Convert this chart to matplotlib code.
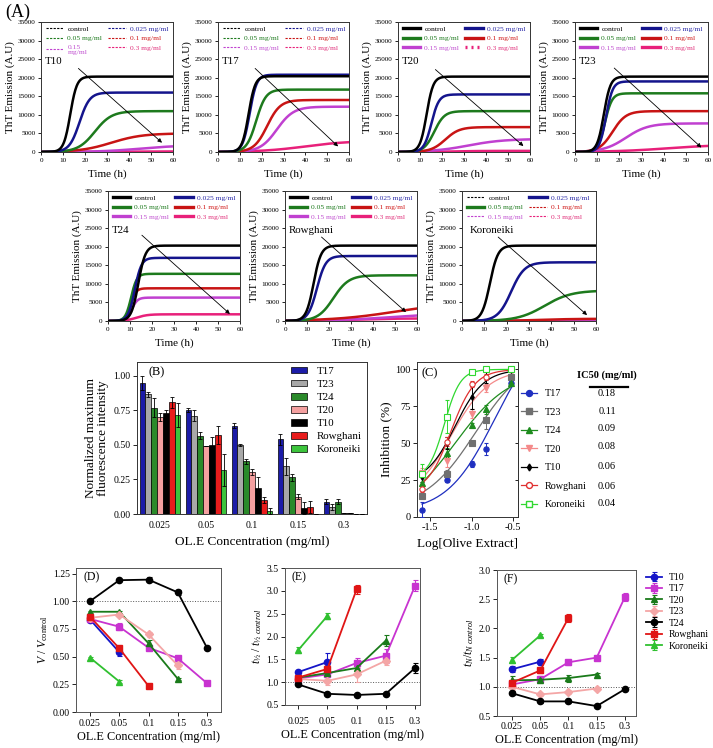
import numpy as np
import matplotlib
matplotlib.use('Agg')
import matplotlib.pyplot as plt
from matplotlib.lines import Line2D

plt.rcParams['font.family'] = ['Liberation Serif', 'DejaVu Serif']
plt.rcParams['mathtext.fontset'] = 'custom'
plt.rcParams['mathtext.rm'] = 'Liberation Serif'
plt.rcParams['mathtext.it'] = 'Liberation Serif:italic'
plt.rcParams['mathtext.bf'] = 'Liberation Serif:bold'

# ------------------------------------------------------------------
# Panel A: ThT kinetics, sigmoidal fit parameters
# order: control, 0.025, 0.05, 0.1, 0.15, 0.3 mg/ml
# ------------------------------------------------------------------
conc_labels = ['control', '0.025 mg/ml', '0.05 mg/ml', '0.1 mg/ml', '0.15 mg/ml', '0.3 mg/ml']
kin_colors = ['#000000', '#14148c', '#1d7a1d', '#c81414', '#c040d0', '#e8207a']
kin_text_colors = ['#000000', '#2a2aa8', '#1d7a1d', '#d01818', '#c050d0', '#e0307a']
samples_A = ['T10', 'T17', 'T20', 'T23', 'T24', 'Rowghani', 'Koroneiki']

T10_plateau = [20300, 16000, 11000, 5000, 1800, 150]
T10_thalf = [13.3, 17.5, 24.5, 32.0, 45.0, 30.0]
T10_width = [1.5, 2.3, 3.8, 7.0, 9.0, 10.0]

T17_plateau = [20400, 20800, 16800, 14000, 12200, 3000]
T17_thalf = [14.0, 14.5, 17.5, 22.5, 27.0, 40.0]
T17_width = [1.5, 1.6, 2.2, 3.0, 3.8, 10.0]

T20_plateau = [20300, 15500, 11000, 6700, 3500, 300]
T20_thalf = [13.0, 15.2, 16.5, 21.5, 32.0, 25.0]
T20_width = [1.5, 1.7, 2.3, 3.2, 8.0, 6.0]

T23_plateau = [20300, 19000, 15800, 11000, 7700, 2000]
T23_thalf = [13.0, 14.0, 13.5, 17.0, 23.0, 42.0]
T23_width = [1.5, 1.5, 1.6, 3.0, 5.0, 12.0]

T24_plateau = [20300, 17000, 12700, 8800, 6300, 1800]
T24_thalf = [13.8, 12.2, 10.5, 10.3, 10.8, 13.0]
T24_width = [1.6, 1.5, 1.3, 1.2, 1.3, 2.5]

Rowghani_plateau = [20300, 17500, 12300, 5000, 2200, 700]
Rowghani_thalf = [13.0, 14.5, 22.0, 50.0, 50.0, 30.0]
Rowghani_width = [1.7, 2.0, 3.5, 14.0, 14.0, 10.0]

Koroneiki_plateau = [20300, 15800, 8200, 600, 150, 80]
Koroneiki_thalf = [12.5, 22.0, 37.0, 35.0, 30.0, 30.0]
Koroneiki_width = [1.8, 3.0, 6.0, 8.0, 10.0, 10.0]

# legend handle styles in each kinetic panel
T10_leg = ['dash'] * 6
T17_leg = ['dash'] * 6
T20_leg = ['solid'] * 5 + ['dot']
T23_leg = ['solid'] * 6
T24_leg = ['solid'] * 6
Rowghani_leg = ['solid'] * 6
Koroneiki_leg = ['dash', 'solid', 'solid', 'dash', 'dash', 'dash']

# arrow (start t, start y, end t, end y)
arrow_T10 = [17.0, 22500, 55.0, 2500]
arrow_T17 = [17.0, 22500, 55.0, 1500]
arrow_T20 = [17.0, 22200, 57.0, 1600]
arrow_T23 = [17.7, 22600, 57.0, 1200]
arrow_T24 = [15.4, 23100, 55.4, 1900]
arrow_Rowghani = [16.6, 22600, 55.0, 2400]
arrow_Koroneiki = [16.2, 22600, 56.0, 1600]

# ------------------------------------------------------------------
# Panel B: normalized max fluorescence
# ------------------------------------------------------------------
conc_ticks = ['0.025', '0.05', '0.1', '0.15', '0.3']
conc_mg = [0.025, 0.05, 0.1, 0.15, 0.3]
B_series = ['T17', 'T23', 'T24', 'T20', 'T10', 'Rowghani', 'Koroneiki']
B_colors = ['#1c1ca8', '#a8a8a8', '#2a8a2a', '#f4a0a0', '#000000', '#e81c1c', '#3cc43c']
B_T17 = [0.95, 0.755, 0.64, 0.54, 0.09]
B_T23 = [0.865, 0.71, 0.50, 0.345, 0.05]
B_T24 = [0.77, 0.565, 0.38, 0.265, 0.09]
B_T20 = [0.70, 0.495, 0.305, 0.125, 0.005]
B_T10 = [0.73, 0.50, 0.185, 0.045, 0.005]
B_Rowghani = [0.81, 0.57, 0.10, 0.05, 0.0]
B_Koroneiki = [0.715, 0.32, 0.02, 0.0, 0.0]
B_T17_err = [0.05, 0.015, 0.02, 0.04, 0.02]
B_T23_err = [0.02, 0.04, 0.01, 0.06, 0.02]
B_T24_err = [0.07, 0.025, 0.02, 0.025, 0.02]
B_T20_err = [0.03, 0.0, 0.02, 0.02, 0.0]
B_T10_err = [0.02, 0.055, 0.085, 0.045, 0.0]
B_Rowghani_err = [0.04, 0.065, 0.02, 0.045, 0.0]
B_Koroneiki_err = [0.085, 0.115, 0.02, 0.0, 0.0]

# ------------------------------------------------------------------
# Panel C: inhibition (%) vs log concentration
# ------------------------------------------------------------------
C_series = ['T17', 'T23', 'T24', 'T20', 'T10', 'Rowghani', 'Koroneiki']
C_colors = ['#1f2fc0', '#707070', '#1e8c1e', '#f48a8a', '#000000', '#e03030', '#30d830']
C_markers = ['o', 's', '^', 'v', 'd', 'o', 's']
C_open = [False, False, False, False, False, True, True]
C_T17 = [5, 25, 36, 46, 91]
C_T23 = [14, 29, 50, 65.5, 95]
C_T24 = [23, 43.5, 62, 73, 91]
C_T20 = [30, 38, 70, 87.5, 99.5]
C_T10 = [27, 50, 81, 94.5, 99.5]
C_Rowghani = [19, 51, 90, 95, 100]
C_Koroneiki = [29, 68, 98, 100, 100]
C_T17_err = [5, 1, 2, 4, 2]
C_T23_err = [2, 3, 1, 6, 2]
C_T24_err = [4, 3, 1.5, 3, 2]
C_T20_err = [3, 4, 3, 2.5, 1]
C_T10_err = [3, 4, 8, 4, 1]
C_Rowghani_err = [2, 3, 2, 2, 1]
C_Koroneiki_err = [7, 11, 1, 1, 1]
# fitted dose-response parameters: bottom, top, midpoint, hill slope
C_bottom = [3, 5, 0, 10, 23, 16, 26]
C_top = [130, 110, 100, 100, 100, 100, 100]
C_mid = [-0.72, -0.95, -1.2, -1.25, -1.2, -1.25, -1.33]
C_hill = [1.5, 1.4, 1.3, 1.9, 2.5, 3.0, 4.5]
IC50 = ['0.18', '0.11', '0.09', '0.08', '0.06', '0.06', '0.04']

# ------------------------------------------------------------------
# Panels D, E, F
# ------------------------------------------------------------------
DEF_series = ['T10', 'T17', 'T20', 'T23', 'T24', 'Rowghani', 'Koroneiki']
DEF_colors = ['#1515c8', '#c833d0', '#1a7a1a', '#f4a6a6', '#000000', '#e01515', '#30c030']
DEF_markers = ['o', 's', '^', 'D', 'o', 's', '^']

D_T10 = [0.835, 0.54]
D_T17 = [0.84, 0.77, 0.58, 0.485, 0.26]
D_T20 = [0.905, 0.905, 0.62, 0.30]
D_T23 = [0.85, 0.88, 0.70, 0.42]
D_T24 = [1.00, 1.19, 1.195, 1.08, 0.58]
D_Rowghani = [0.86, 0.575, 0.235]
D_Koroneiki = [0.49, 0.275]
D_T10_err = [0.02, 0.03]
D_T17_err = [0.01, 0.03, 0.02, 0.02, 0.01]
D_T20_err = [0.01, 0.01, 0.03, 0.01]
D_T23_err = [0.01, 0.01, 0.02, 0.03]
D_T24_err = [0.01, 0.01, 0.025, 0.02, 0.01]
D_Rowghani_err = [0.02, 0.02, 0.01]
D_Koroneiki_err = [0.01, 0.01]

E_T10 = [1.22, 1.44]
E_T17 = [1.08, 1.17, 1.42, 1.58, 3.11]
E_T20 = [1.10, 1.20, 1.31, 1.91]
E_T23 = [1.07, 1.03, 1.17, 1.47]
E_T24 = [0.95, 0.745, 0.72, 0.745, 1.31]
E_Rowghani = [1.10, 1.29, 3.03]
E_Koroneiki = [1.70, 2.45]
E_T10_err = [0.03, 0.2]
E_T17_err = [0.03, 0.05, 0.1, 0.15, 0.12]
E_T20_err = [0.03, 0.05, 0.05, 0.12]
E_T23_err = [0.03, 0.1, 0.17, 0.1]
E_T24_err = [0.03, 0.02, 0.02, 0.02, 0.12]
E_Rowghani_err = [0.03, 0.08, 0.1]
E_Koroneiki_err = [0.07, 0.07]

F_T10 = [1.30, 1.43]
F_T17 = [1.04, 1.13, 1.42, 1.50, 2.54]
F_T20 = [1.11, 1.12, 1.15, 1.21]
F_T23 = [1.00, 0.87, 0.91, 0.97]
F_T24 = [0.89, 0.75, 0.75, 0.67, 0.96]
F_Rowghani = [1.07, 1.28, 2.18]
F_Koroneiki = [1.46, 1.88]
F_T10_err = [0.05, 0.05]
F_T17_err = [0.05, 0.05, 0.04, 0.03, 0.07]
F_T20_err = [0.08, 0.03, 0.06, 0.02]
F_T23_err = [0.05, 0.02, 0.03, 0.02]
F_T24_err = [0.03, 0.02, 0.02, 0.02, 0.02]
F_Rowghani_err = [0.03, 0.05, 0.07]
F_Koroneiki_err = [0.05, 0.02]

# ==================================================================
W, H = 713, 748
fig = plt.figure(figsize=(W / 100, H / 100), dpi=100)


def add_ax(l, t, r, b):
    return fig.add_axes([l / W, 1 - b / H, (r - l) / W, (b - t) / H])


G = globals()
time_h = np.linspace(0, 60, 301)


def leg_handle(style, color):
    if style == 'dash':
        return Line2D([], [], color=color, lw=0.8, ls=(0, (2, 1.2)))
    if style == 'dot':
        return Line2D([], [], color=color, lw=2.4, ls=(0, (0.6, 1.2)))
    return Line2D([], [], color=color, lw=2.4)


def kinetic_panel(ax, name):
    plateau = G[name + '_plateau']
    thalf = G[name + '_thalf']
    width = G[name + '_width']
    for i in range(6):
        y = plateau[i] / (1 + np.exp(-(time_h - thalf[i]) / width[i]))
        ax.plot(time_h, y, color=kin_colors[i], lw=1.8, zorder=3 + (5 - i) * 0.1)
    a = G['arrow_' + name]
    ax.annotate('', xy=(a[2], a[3]), xytext=(a[0], a[1]),
                arrowprops=dict(arrowstyle='-|>', color='black', lw=0.6,
                                mutation_scale=6, shrinkA=0, shrinkB=0), zorder=6)
    ax.set_xlim(0, 60)
    ax.set_ylim(0, 35000)
    ax.set_xticks(range(0, 61, 10))
    ax.set_yticks(range(0, 35001, 5000))
    ax.tick_params(direction='out', length=2.5, width=0.6, labelsize=5.2, pad=1.5)
    for s in ax.spines.values():
        s.set_linewidth(0.7)
        s.set_color('#333333')
    ax.set_ylabel('ThT Emission (A.U)', fontsize=8, labelpad=2)
    ax.set_xlabel('Time (h)', fontsize=8, labelpad=5)
    styles = G[name + '_leg']
    labels = list(conc_labels)
    if name == 'T10':
        labels[4] = '0.15\nmg/ml'
    order = [0, 2, 4, 1, 3, 5]
    handles = [leg_handle(styles[i], kin_colors[i]) for i in order]
    ax.legend(handles, [labels[i] for i in order], ncol=2, loc='upper left',
              bbox_to_anchor=(-0.01, 1.02), frameon=False, fontsize=5.4,
              handlelength=2.3, handletextpad=0.6, columnspacing=0.8,
              labelspacing=0.45, borderpad=0.3,
              labelcolor=[kin_text_colors[i] for i in order])
    ax.text(1.5 if name != 'Koroneiki' else 3.5, 24300, name, fontsize=7.8, va='center', ha='left')


kin_boxes = {
    'T10': (41, 22, 173, 152), 'T17': (218, 22, 349, 152),
    'T20': (398, 22, 530, 152), 'T23': (575, 22, 708, 152),
    'T24': (108, 191, 240, 321), 'Rowghani': (285, 191, 417, 321),
    'Koroneiki': (462, 191, 596, 321),
}
for nm in samples_A:
    ax = add_ax(*kin_boxes[nm])
    kinetic_panel(ax, nm)

fig.text(5 / W, 1 - 12 / H, '(A)', fontsize=13, va='center', ha='left')

# ---------------- Panel B ----------------
axB = add_ax(137, 362, 367, 514)
xg = np.arange(len(conc_ticks))
bw = 0.127
for j, s in enumerate(B_series):
    vals = G['B_' + s]
    errs = G['B_' + s + '_err']
    pos = xg + (j - 3) * bw
    axB.bar(pos, vals, width=bw, color=B_colors[j], edgecolor='black', linewidth=0.5,
            label=s, zorder=2)
    axB.errorbar(pos, vals, yerr=errs, fmt='none', ecolor='black', elinewidth=0.6,
                 capsize=1.3, capthick=0.6, zorder=3)
axB.set_xlim(-0.5, 4.5)
axB.set_ylim(0, 1.1)
axB.set_xticks(xg)
axB.set_xticklabels(conc_ticks)
axB.set_yticks([0, 0.25, 0.5, 0.75, 1.0])
axB.set_yticklabels(['0.00', '0.25', '0.50', '0.75', '1.00'])
axB.tick_params(axis='x', length=0, labelsize=7, pad=5)
axB.tick_params(axis='y', direction='out', length=3, width=0.6, labelsize=7, pad=1.5)
for s in axB.spines.values():
    s.set_linewidth(0.7)
    s.set_color('#333333')
axB.set_ylabel('Normalized maximum\nfluorescence intensity', fontsize=9.5, labelpad=3,
               linespacing=1.0)
axB.set_xlabel('OL.E Concentration (mg/ml)', fontsize=9.5, labelpad=4)
axB.legend(loc='upper right', bbox_to_anchor=(1.01, 1.02), frameon=False, fontsize=7.8,
           handlelength=1.5, handleheight=0.6, handletextpad=0.9, labelspacing=0.35,
           borderpad=0.2)
axB.text(0.05, 0.93, '(B)', transform=axB.transAxes, fontsize=9, va='center', ha='left')

# ---------------- Panel C ----------------
axC = add_ax(417, 362, 518, 517)
xc = np.log10(conc_mg)
xfit = np.linspace(-1.6, -0.5, 200)
c_handles = []
for j, s in enumerate(C_series):
    vals = G['C_' + s]
    errs = G['C_' + s + '_err']
    yfit = C_bottom[j] + (C_top[j] - C_bottom[j]) / (1 + 10 ** ((C_mid[j] - xfit) * C_hill[j]))
    axC.plot(xfit, yfit, color=C_colors[j], lw=0.9, zorder=2)
    mfc = 'white' if C_open[j] else C_colors[j]
    ms = 3.0 if C_markers[j] == 'd' else 3.8
    axC.errorbar(xc, vals, yerr=errs, fmt=C_markers[j], color=C_colors[j], mfc=mfc,
                 mec=C_colors[j], ms=ms, mew=0.8, elinewidth=0.7, capsize=1.5,
                 capthick=0.7, zorder=3)
    c_handles.append(Line2D([], [], color=C_colors[j], marker=C_markers[j], mfc=mfc,
                            mec=C_colors[j], ms=ms + 0.5, lw=0.9))
axC.set_xlim(-1.66, -0.44)
axC.set_ylim(0, 105)
axC.set_xticks([-1.5, -1.0, -0.5])
axC.set_xticklabels(['-1.5', '-1.0', '-0.5'])
axC.set_yticks([0, 25, 50, 75, 100])
axC.tick_params(direction='out', length=3, width=0.6, labelsize=7.5, pad=1.5)
secC = axC.secondary_yaxis('right')
secC.set_yticks([0, 25, 50, 75, 100])
secC.tick_params(direction='in', length=2.5, width=0.6, labelright=False)
for s in list(axC.spines.values()) + list(secC.spines.values()):
    s.set_linewidth(0.7)
    s.set_color('#333333')
axC.set_ylabel('Inhibition (%)', fontsize=9.5, labelpad=2)
axC.set_xlabel('Log[Olive Extract]', fontsize=9.5, labelpad=4)
axC.text(0.04, 0.93, '(C)', transform=axC.transAxes, fontsize=9, va='center', ha='left')
axC.legend(c_handles, C_series, loc='upper left', bbox_to_anchor=(1.03, 0.825),
           frameon=False, fontsize=7.3, handlelength=1.6, handletextpad=0.7,
           labelspacing=0.93, borderpad=0.0, borderaxespad=0.0)
row_y = [393, 411, 429, 447, 466, 486, 504]
for j, v in enumerate(IC50):
    fig.text(607 / W, 1 - row_y[j] / H, v, fontsize=7.5, ha='center', va='center')
fig.text(607 / W, 1 - 375 / H, 'IC50 (mg/ml)', fontsize=7.5, ha='center', va='center',
         fontweight='bold')
fig.add_artist(Line2D([590 / W, 628 / W], [1 - 387 / H, 1 - 387 / H], color='black', lw=1.6))


# ---------------- Panels D, E, F ----------------
def def_panel(ax, key, ylim, yticks, yticklabels, ylabel, tag, xlim):
    for j, s in enumerate(DEF_series):
        vals = G[key + '_' + s]
        errs = G[key + '_' + s + '_err']
        xs = np.arange(len(vals))
        ms = 3.6 if DEF_markers[j] == 'D' else 4.5
        ax.errorbar(xs, vals, yerr=errs, fmt='-' + DEF_markers[j], color=DEF_colors[j],
                    ms=ms, lw=1.3, elinewidth=0.8, capsize=1.8, capthick=0.8,
                    label=s, zorder=3)
    ax.axhline(1.0, color='#555555', ls=':', lw=0.7, zorder=1)
    ax.set_xlim(*xlim)
    ax.set_ylim(*ylim)
    ax.set_xticks(range(5))
    ax.set_xticklabels(conc_ticks)
    ax.set_yticks(yticks)
    ax.set_yticklabels(yticklabels)
    ax.tick_params(direction='out', length=3, width=0.6, labelsize=7, pad=1.5)
    ax.tick_params(axis='x', pad=2)
    for s in ax.spines.values():
        s.set_linewidth(0.7)
        s.set_color('#555555')
    ax.set_ylabel(ylabel, fontsize=8.5, labelpad=2)
    ax.set_xlabel('OL.E Concentration (mg/ml)', fontsize=8.8, labelpad=2)
    ax.text(0.05, 0.935, tag, transform=ax.transAxes, fontsize=8.5, va='center', ha='left')


axD = add_ax(76, 568, 221, 712)
def_panel(axD, 'D', (0, 1.3), [0, 0.25, 0.5, 0.75, 1.0, 1.25],
          ['0.00', '0.25', '0.50', '0.75', '1.00', '1.25'],
          r'$V\ /\ V_{\mathrm{control}}$', '(D)', (-0.48, 4.48))
axE = add_ax(285, 568, 420, 705)
def_panel(axE, 'E', (0.5, 3.5), [0.5, 1, 1.5, 2, 2.5, 3, 3.5],
          ['0.5', '1.0', '1.5', '2.0', '2.5', '3.0', '3.5'],
          r'$t_{½}\ /\ t_{½\ control}$', '(E)', (-0.45, 4.17))
axE.tick_params(axis='x', pad=6)
axF = add_ax(497, 570, 636, 716)
def_panel(axF, 'F', (0.5, 3.0), [0.5, 1, 1.5, 2, 2.5, 3],
          ['0.5', '1.0', '1.5', '2.0', '2.5', '3.0'],
          r'$t_N/t_{N\ control}$', '(F)', (-0.53, 4.39))
axF.tick_params(axis='x', pad=1.5)
axF.legend(loc='upper left', bbox_to_anchor=(1.075, 0.98), frameon=False, fontsize=7.0,
           handlelength=1.6, handletextpad=0.7, labelspacing=0.25, borderpad=0.0,
           borderaxespad=0.0)

fig.savefig('out.png', dpi=100)
